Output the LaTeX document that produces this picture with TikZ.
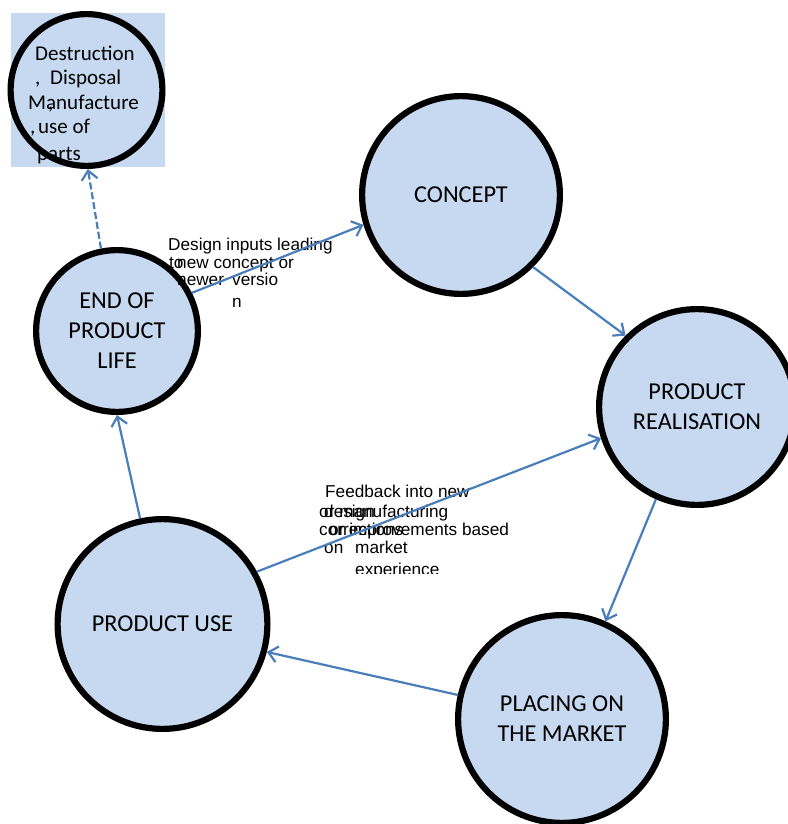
\documentclass[tikz,border=0pt]{standalone}
\usepackage{fontspec}
\setmainfont{Carlito}
\newfontfamily\notefont{Liberation Sans}
\usetikzlibrary{arrows.meta}
\definecolor{stagefill}{HTML}{C6D9F1}
\definecolor{flowblue}{HTML}{4A7EBB}
\begin{document}
\begin{tikzpicture}[x=1pt,y=-1pt,
    stage/.style={circle,draw=black,line width=6.2pt,fill=stagefill,inner sep=0pt,
      align=center,font=\fontsize{24.3}{30}\selectfont},
    flow/.style={draw=flowblue,line width=2.2pt,-{Straight Barb[length=9pt,width=16pt]}},
    note/.style={anchor=base west,inner sep=0pt,font=\notefont\fontsize{17.2}{18}\selectfont},
    bit/.style={anchor=base west,inner sep=0pt,font=\fontsize{21}{24}\selectfont}]
  \useasboundingbox(0,0)rectangle(787,824);
  % box with the disposal text, circle drawn over it
  \fill[stagefill](11,13)rectangle(165,167);
  \node[bit](b1)at(35,61){Destruction};
  \node[bit](b2)at(35,85){,};
  \node[bit](b3)at(50,85){Disposal};
  \node[bit](b4)at(28,110){Manufacture};
  \node[bit](b5)at(48,110){,};
  \node[bit](b6)at(30,133){,};
  \node[bit](b7)at(38,133){use of};
  \node[bit](b8)at(37,160){parts};
  \node[circle,draw=black,line width=6.2pt,inner sep=0pt,minimum size=151.8pt](dest)at(86.5,90){};
  % stages
  \node[stage,minimum size=161.8pt](eol)at(117,331){END OF\\PRODUCT\\LIFE};
  \node[stage,minimum size=197.8pt](concept)at(461,195){CONCEPT};
  \node[stage,minimum size=195.8pt](real)at(697,407){PRODUCT\\REALISATION};
  \node[stage,minimum size=207.8pt](place)at(562,719){PLACING ON\\THE MARKET};
  \node[stage,minimum size=209.8pt](use)at(162.5,624){PRODUCT USE};
  % labels
  \node[note](n1)at(168,250){Design inputs leading};
  \node[note](n2)at(169,268){to};
  \node[note](n3)at(177,268){new concept or};
  \node[note](n4)at(177,285){newer};
  \node[note](n5)at(232,285){versio};
  \node[note](n6)at(232,307){n};
  \node[note](f1)at(325,497){Feedback into new};
  \node[note](f2)at(319,517){or manufacturing};
  \node[note](f3)at(324,517){design};
  \node[note](f4)at(319,535){corrections};
  \node[note](f5)at(329,535){or improvements based};
  \node[note](f6)at(324,553){on};
  \node[note](f7)at(355,553){market};
  \begin{scope}
    \clip(300,560)rectangle(520,573.5);
    \node[note](f8)at(355,575){experience};
  \end{scope}
  % connectors
  \draw[flow,dash pattern=on 7pt off 3pt](eol.101)--(dest.-89);
  \draw[flow](eol.27)--(concept.197);
  \draw[flow](concept.-45)--(real.135);
  \draw[flow](real.246)--(place.66);
  \draw[flow](place.167)--(use.-15);
  \draw[flow](use.102)--(eol.-90);
  \draw[flow](use.29)--(real.198);
\end{tikzpicture}
\end{document}
